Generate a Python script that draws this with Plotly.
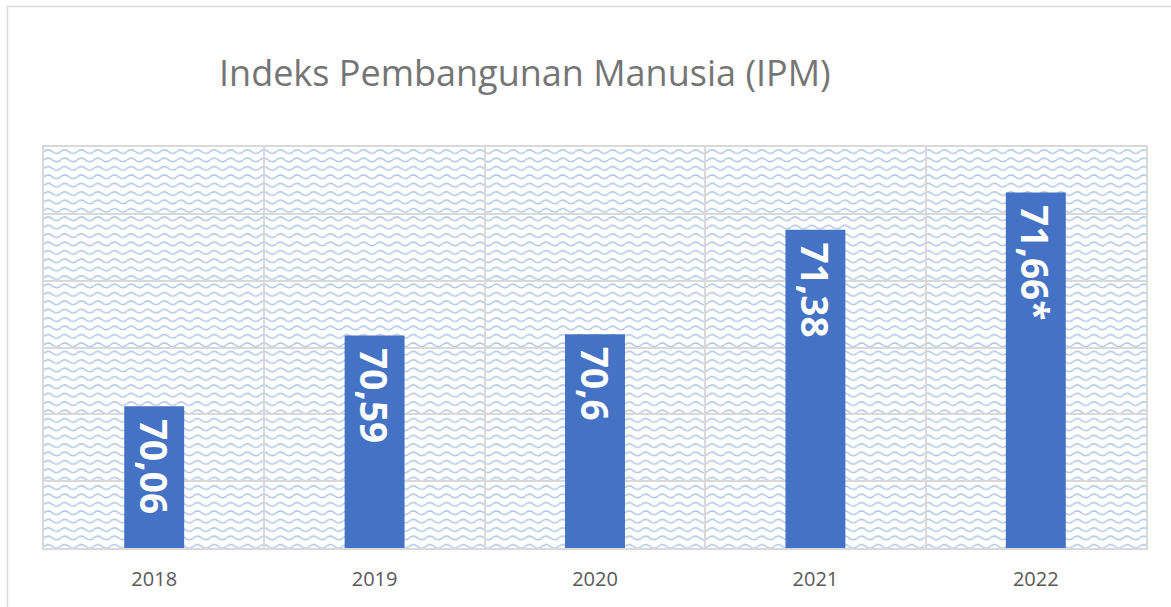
import base64
import plotly.graph_objects as go

years = ["2018", "2019", "2020", "2021", "2022"]
ipm_values = [70.06, 70.59, 70.60, 71.38, 71.66]
bar_labels = ["70,06", "70,59", "70,6", "71,38", "71,66*"]
title_text = "Indeks Pembangunan Manusia (IPM)"

W, H = 1171, 607
ML, MR, MT, MB = 44, 25, 147, 59
PW, PH = W - ML - MR, H - MT - MB

# wavy background pattern (decoration only)
svg = f'''<svg xmlns="http://www.w3.org/2000/svg" width="{PW}" height="{PH}" viewBox="0 0 {PW} {PH}">
<defs><pattern id="w" width="16.6" height="8.4" patternUnits="userSpaceOnUse" x="0" y="1">
<path d="M0,3.6 Q4.15,0 8.3,3.6 T16.6,3.6" fill="none" stroke="#b4c7e7" stroke-width="1.5"/>
</pattern></defs>
<rect width="{PW}" height="{PH}" fill="#ffffff"/>
<rect width="{PW}" height="{PH}" fill="url(#w)"/>
</svg>'''
uri = "data:image/svg+xml;base64," + base64.b64encode(svg.encode()).decode()

fig = go.Figure()
fig.add_trace(go.Bar(
    x=years, y=ipm_values,
    marker=dict(color="#4472C4", line=dict(width=0)),
    text=["<b>\u00a0" + t + "</b>" for t in bar_labels],
    textposition="inside", insidetextanchor="end",
    textangle=90,
    insidetextfont=dict(family="Open Sans", size=37, color="white"),
    hoverinfo="skip",
))

fig.update_layout(
    width=W, height=H, autosize=False,
    margin=dict(l=ML, r=MR, t=MT, b=MB, pad=0),
    paper_bgcolor="white", plot_bgcolor="rgba(0,0,0,0)",
    bargap=0.728, showlegend=False,
    font=dict(family="Open Sans", color="#595959"),
    images=[dict(source=uri, xref="paper", yref="paper", x=0, y=1,
                 sizex=1, sizey=1, sizing="stretch", layer="below",
                 xanchor="left", yanchor="top")],
    annotations=[dict(text=title_text, xref="paper", yref="paper",
                      x=(525 - ML) / PW, y=(548 - 73) / PH,
                      xanchor="center", yanchor="middle", showarrow=False,
                      font=dict(family="Open Sans", size=36, color="#757575"))],
    shapes=[dict(type="rect", xref="paper", yref="paper",
                 x0=(7.5 - ML) / PW, x1=1.2, y0=-0.3, y1=(548 - 6.5) / PH,
                 line=dict(color="#d9d9d9", width=1.5), fillcolor="rgba(0,0,0,0)",
                 layer="below")],
)
fig.update_xaxes(
    type="category", tickson="boundaries", showgrid=True,
    gridcolor="#d9d9d9", gridwidth=2, ticks="", ticklabelstandoff=12,
    tickfont=dict(family="Open Sans", size=20, color="#595959"),
    showline=True, mirror=True, linecolor="#d9d9d9", linewidth=2,
    zeroline=False, fixedrange=True,
)
fig.update_yaxes(
    range=[69, 72], dtick=0.5, tick0=69, showticklabels=False,
    showgrid=True, gridcolor="#d9d9d9", gridwidth=2,
    showline=True, mirror=True, linecolor="#d9d9d9", linewidth=2,
    zeroline=False, fixedrange=True,
)

fig.write_html("out.html", config={"displayModeBar": False},
               post_script="document.body.style.margin='0';document.body.style.overflow='hidden';")
